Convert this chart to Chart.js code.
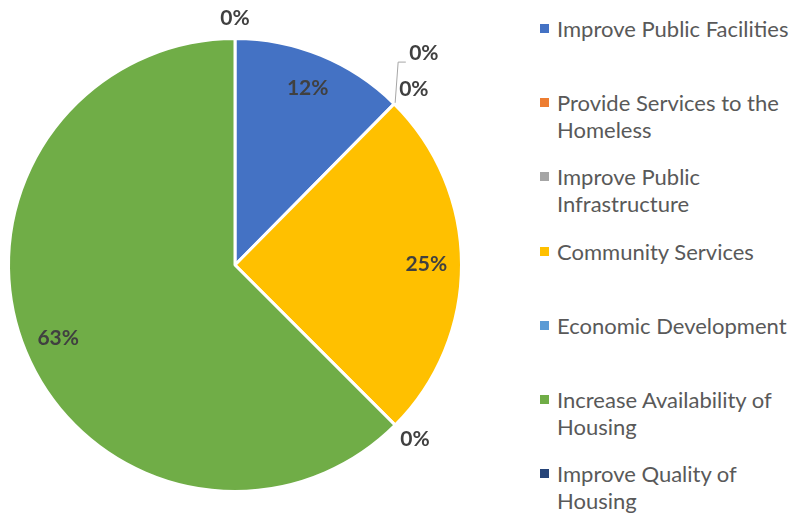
<!DOCTYPE html>
<html>
<head>
<meta charset="utf-8">
<script src="https://cdn.jsdelivr.net/npm/chart.js@4.4.0/dist/chart.umd.min.js"></script>
<style>
  body { margin: 0; background: #fff; }
  #wrap { position: relative; width: 795px; height: 516px; }
  #box { position: absolute; left: 0; top: 0; width: 470px; height: 516px; }
  #legend { position: absolute; left: 540px; top: 0; width: 255px; font-family: Lato, "Liberation Sans", sans-serif; font-size: 22px; color: #595959; }
  .item { position: absolute; left: 0; width: 255px; line-height: 27px; }
  .item i { position: absolute; left: 0; top: 9px; width: 9px; height: 9px; }
  .item span { display: block; margin-left: 17px; white-space: nowrap; }
</style>
</head>
<body>
<div id="wrap">
  <div id="box"><canvas id="pie"></canvas></div>
  <div id="legend"></div>
</div>
<script>
// ============================
// DADOS
// ============================
const categorias = [
    "Improve Public Facilities",
    "Provide Services to the Homeless",
    "Improve Public Infrastructure",
    "Community Services",
    "Economic Development",
    "Increase Availability of Housing",
    "Improve Quality of Housing"
];
// quebras de linha da legenda, como no original
const legendaLinhas = [
    ["Improve Public Facilities"],
    ["Provide Services to the", "Homeless"],
    ["Improve Public", "Infrastructure"],
    ["Community Services"],
    ["Economic Development"],
    ["Increase Availability of", "Housing"],
    ["Improve Quality of", "Housing"]
];
const valores = [12.4, 0, 0, 25.1, 0, 62.5, 0];
const cores = ["#4472C4", "#ED7D31", "#A5A5A5", "#FFC000", "#5B9BD5", "#70AD47", "#264478"];

// ============================
// ROTULOS DE PERCENTAGEM
// ============================
const rotulosPlugin = {
    id: "rotulos",
    afterDatasetsDraw(chart) {
        const ctx = chart.ctx;
        const meta = chart.getDatasetMeta(0);
        const total = valores.reduce((a, b) => a + b, 0);
        ctx.save();
        ctx.font = "bold 21px Lato, 'Liberation Sans', sans-serif";
        ctx.fillStyle = "#404040";
        ctx.textAlign = "center";
        ctx.textBaseline = "middle";
        meta.data.forEach((arc, i) => {
            const p = arc.getProps(["x", "y", "startAngle", "endAngle", "outerRadius"], true);
            const meio = (p.startAngle + p.endAngle) / 2;
            const pct = Math.round(valores[i] / total * 100) + "%";
            const cx = Math.cos(meio), cy = Math.sin(meio);
            if (valores[i] > 0) {
                const r = p.outerRadius * 0.845;
                ctx.fillText(pct, p.x + cx * r, p.y + cy * r);
                return;
            }
            // fatia zero: caixa encostada fora do circulo
            const ex = p.x + cx * p.outerRadius;
            const ey = p.y + cy * p.outerRadius;
            let lx = ex + cx * 28;
            let ly = ey + cy * 20;
            if (i + 1 < valores.length && valores[i + 1] === 0) {
                // dois zeros no mesmo angulo: empurra este para fora com linha guia
                lx = lx + 10;
                ly = ly - 36;
                ctx.strokeStyle = "#A6A6A6";
                ctx.lineWidth = 1;
                ctx.beginPath();
                ctx.moveTo(ex + 1, ey - 1);
                ctx.lineTo(ex + 4, ly + 8.5);
                ctx.lineTo(lx - 18, ly + 8.5);
                ctx.stroke();
            }
            ctx.fillText(pct, lx, ly);
        });
        ctx.restore();
    }
};

// ============================
// GRAFICO
// ============================
const grafico = new Chart(document.getElementById("pie"), {
    type: "pie",
    data: {
        labels: categorias,
        datasets: [{
            data: valores,
            backgroundColor: cores,
            borderColor: "#ffffff",
            borderWidth: 3
        }]
    },
    options: {
        responsive: true,
        maintainAspectRatio: false,
        animation: false,
        layout: { padding: { top: 37, bottom: 23, left: 7, right: 7 } },
        plugins: {
            legend: { display: false },
            tooltip: { enabled: false }
        }
    },
    plugins: [rotulosPlugin]
});

// ============================
// LEGENDA HTML
// ============================
const legenda = document.getElementById("legend");
const itens = Chart.overrides.pie.plugins.legend.labels.generateLabels(grafico);
itens.forEach((it, i) => {
    const div = document.createElement("div");
    div.className = "item";
    div.style.top = (15 + i * 74.2) + "px";
    div.innerHTML = `<i style="background:${it.fillStyle}"></i><span>${legendaLinhas[i].join("<br>")}</span>`;
    legenda.appendChild(div);
});
</script>
</body>
</html>
